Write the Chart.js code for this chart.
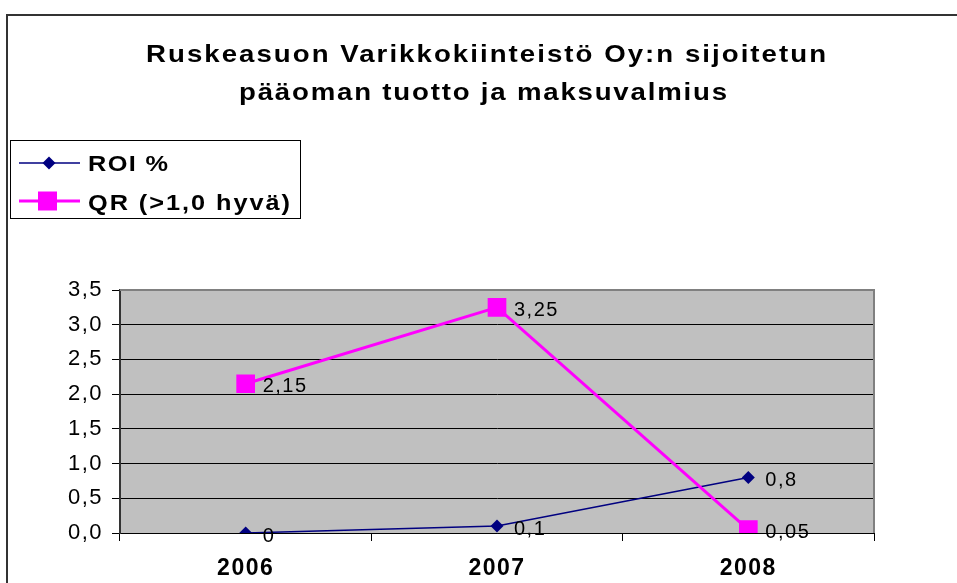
<!DOCTYPE html>
<html>
<head>
<meta charset="utf-8">
<script src="https://cdn.jsdelivr.net/npm/chart.js@4"></script>
<style>
html,body{margin:0;padding:0;background:#fff;}
#wrap{position:relative;width:957px;height:583px;}
</style>
</head>
<body>
<div id="wrap"><canvas id="c" width="957" height="583"></canvas></div>
<script>
const titleLines = ["Ruskeasuon Varikkokiinteistö Oy:n sijoitetun", "pääoman tuotto ja maksuvalmius"];
const categories = ["2006", "2007", "2008"];
const roiValues = [0, 0.1, 0.8];
const qrValues = [2.15, 3.25, 0.05];
const seriesNames = ["ROI %", "QR (>1,0 hyvä)"];
const yTicks = [0, 0.5, 1.0, 1.5, 2.0, 2.5, 3.0, 3.5];

const FONT = "'Liberation Sans', Arial, sans-serif";
const fmt = v => String(v).replace('.', ',');
const fmt1 = v => v.toFixed(1).replace('.', ',');

// draw text horizontally scaled by sx and fitted between left and right with letter spacing
function drawFit(ctx, text, left, right, baseline, sx) {
  ctx.save();
  ctx.letterSpacing = '0px';
  const w = ctx.measureText(text).width;
  const n = [...text].length;
  const ls = n > 1 ? ((right - left) / sx - w) / (n - 1) : 0;
  ctx.letterSpacing = ls + 'px';
  ctx.textAlign = 'left';
  ctx.textBaseline = 'alphabetic';
  ctx.translate(left, baseline);
  ctx.scale(sx, 1);
  ctx.fillText(text, 0, 0);
  ctx.restore();
}

const decor = {
  id: 'decor',
  beforeDraw(chart) {
    const ctx = chart.ctx;
    const a = chart.chartArea;
    ctx.save();
    ctx.fillStyle = '#fff';
    ctx.fillRect(0, 0, chart.width, chart.height);
    ctx.strokeStyle = '#333';
    ctx.lineWidth = 2;
    ctx.strokeRect(7, 15, 1000, 700);
    ctx.fillStyle = '#C0C0C0';
    ctx.fillRect(a.left, a.top, a.right - a.left, a.bottom - a.top);
    ctx.restore();
    ctx.letterSpacing = '1.5px';
  },
  afterDatasetsDraw(chart) {
    const ctx = chart.ctx;
    const a = chart.chartArea;
    ctx.save();
    ctx.strokeStyle = '#808080';
    ctx.lineWidth = 2;
    ctx.beginPath();
    ctx.moveTo(a.left, a.top); ctx.lineTo(a.right, a.top); ctx.lineTo(a.right, a.bottom);
    ctx.stroke();
    // data labels
    ctx.fillStyle = '#000';
    ctx.font = '20px ' + FONT;
    ctx.letterSpacing = '1.5px';
    ctx.textAlign = 'left';
    ctx.textBaseline = 'alphabetic';
    chart.data.datasets.forEach((ds, i) => {
      const meta = chart.getDatasetMeta(i);
      meta.data.forEach((pt, j) => {
        ctx.fillText(fmt(ds.data[j]), pt.x + 17, pt.y + 8.5);
      });
    });
    // title
    ctx.font = 'bold 24px ' + FONT;
    drawFit(ctx, titleLines[0], 146, 826, 62, 1.15);
    drawFit(ctx, titleLines[1], 239, 727, 100, 1.15);
    // legend box
    ctx.lineWidth = 1;
    ctx.strokeStyle = '#000';
    ctx.strokeRect(10.5, 140.5, 290, 78);
    const rows = [163, 201];
    const bases = [171, 209.5];
    const rights = [168, 290];
    chart.data.datasets.forEach((ds, i) => {
      const y = rows[i];
      ctx.strokeStyle = ds.borderColor;
      ctx.lineWidth = ds.borderWidth;
      ctx.beginPath(); ctx.moveTo(19, y); ctx.lineTo(80, y); ctx.stroke();
      ctx.fillStyle = ds.pointBackgroundColor;
      if (i === 0) {
        ctx.beginPath();
        ctx.moveTo(49, y - 6.5); ctx.lineTo(55.5, y); ctx.lineTo(49, y + 6.5); ctx.lineTo(42.5, y);
        ctx.closePath(); ctx.fill();
      } else {
        ctx.fillRect(38, y - 9.5, 19, 19);
      }
      ctx.fillStyle = '#000';
      ctx.font = 'bold 22px ' + FONT;
      drawFit(ctx, ds.label, 88, rights[i], bases[i], 1.15);
    });
    ctx.restore();
    ctx.letterSpacing = '1.5px';
  }
};

new Chart(document.getElementById('c'), {
  type: 'line',
  data: {
    labels: categories,
    datasets: [
      {
        label: seriesNames[0], data: roiValues,
        borderColor: '#000080', backgroundColor: '#000080',
        pointBackgroundColor: '#000080', pointBorderColor: '#000080',
        borderWidth: 1.5, pointStyle: 'rectRot', pointRadius: 6.5, pointBorderWidth: 0,
        tension: 0, order: 2
      },
      {
        label: seriesNames[1], data: qrValues,
        borderColor: '#FF00FF', backgroundColor: '#FF00FF',
        pointBackgroundColor: '#FF00FF', pointBorderColor: '#FF00FF',
        borderWidth: 3, pointStyle: 'rect', pointRadius: 13.2, pointBorderWidth: 0,
        tension: 0, order: 1
      }
    ]
  },
  options: {
    responsive: false,
    animation: false,
    events: [],
    layout: { padding: { top: 290, left: 50, right: 83, bottom: 0 } },
    plugins: { legend: { display: false }, title: { display: false }, tooltip: { enabled: false } },
    scales: {
      x: {
        offset: true,
        afterFit(s) { s.height = 50; },
        grid: { display: true, offset: true, drawOnChartArea: false, drawTicks: true, tickLength: 8, color: '#000', lineWidth: 1 },
        border: { display: true, color: '#000', width: 1 },
        ticks: { color: '#000', font: { family: FONT, size: 23, weight: 'bold' }, padding: 14 }
      },
      y: {
        min: 0, max: 3.5,
        afterFit(s) { s.width = 70; },
        afterBuildTicks(s) { s.ticks = yTicks.map(v => ({ value: v })); },
        grid: { color: '#000', lineWidth: 1, drawTicks: true, tickLength: 8 },
        border: { display: true, color: '#333', width: 2 },
        ticks: { color: '#000', font: { family: FONT, size: 22 }, padding: 9, callback: v => fmt1(v) }
      }
    }
  },
  plugins: [decor]
});
</script>
</body>
</html>
